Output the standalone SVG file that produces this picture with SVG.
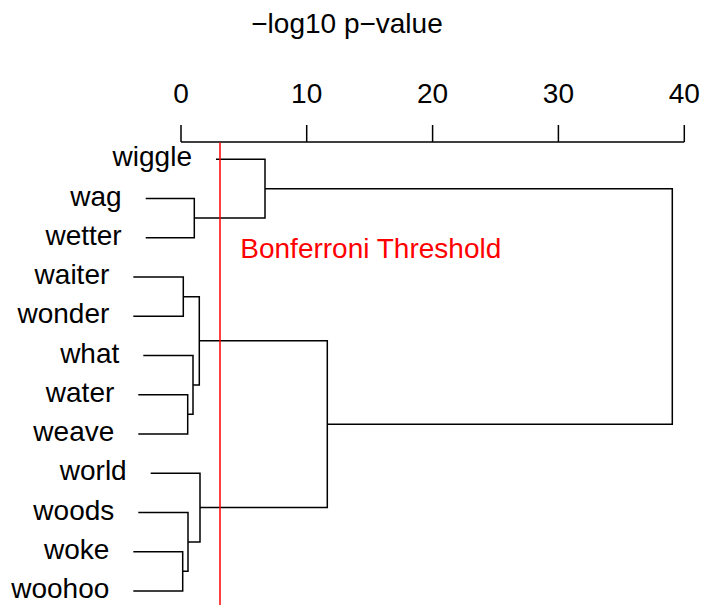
<svg xmlns="http://www.w3.org/2000/svg" width="704" height="605" viewBox="0 0 704 605">
<style>
text{font-family:"Liberation Sans",Arial,sans-serif;font-size:28px;fill:#000}
.lab{text-anchor:end}
.tick{text-anchor:middle}
.ln{fill:none;stroke:#000;stroke-width:1.5;stroke-linecap:butt}
.red{stroke:#ff0000;stroke-width:1.5;fill:none}
</style>
<rect width="704" height="605" fill="#fff"/>
<g id="title"><text x="347" y="33" class="tick">−log10 p−value</text></g>
<g id="axis">
<path class="ln" d="M181,142H684.3M181,125V142M306.7,125V142M432.6,125V142M558.4,125V142M684.3,125V142"/>
<text x="181" y="103" class="tick">0</text>
<text x="306.7" y="103" class="tick">10</text>
<text x="432.6" y="103" class="tick">20</text>
<text x="558.4" y="103" class="tick">30</text>
<text x="684.3" y="103" class="tick">40</text>
</g>
<g id="leaf-wiggle"><text class="lab" x="192" y="166.3">wiggle</text></g>
<g id="leaf-wag"><text class="lab" x="121.7" y="205.5">wag</text></g>
<g id="leaf-wetter"><text class="lab" x="121.7" y="244.8">wetter</text></g>
<g id="leaf-waiter"><text class="lab" x="109.3" y="284">waiter</text></g>
<g id="leaf-wonder"><text class="lab" x="109.3" y="323.3">wonder</text></g>
<g id="leaf-what"><text class="lab" x="119.3" y="362.5">what</text></g>
<g id="leaf-water"><text class="lab" x="114.3" y="401.7">water</text></g>
<g id="leaf-weave"><text class="lab" x="114.3" y="441">weave</text></g>
<g id="leaf-world"><text class="lab" x="126.7" y="480.2">world</text></g>
<g id="leaf-woods"><text class="lab" x="114.3" y="519.5">woods</text></g>
<g id="leaf-woke"><text class="lab" x="109.3" y="558.7">woke</text></g>
<g id="leaf-woohoo"><text class="lab" x="109.3" y="597.9">woohoo</text></g>
<g id="connectors">
<path class="ln" d="M145.7,198.5H194.3V237.8H145.7"/>
<path class="ln" d="M216,159.3H265V218.1H194.3"/>
<path class="ln" d="M133.3,277H183.3V316.3H133.3"/>
<path class="ln" d="M138.3,394.7H187.7V434H138.3"/>
<path class="ln" d="M143.3,355.5H193V414.3H187.7"/>
<path class="ln" d="M183.3,296.7H199.3V384.9H193"/>
<path class="ln" d="M133.3,551.7H182.7V590.9H133.3"/>
<path class="ln" d="M138.3,512.5H188V571.3H182.7"/>
<path class="ln" d="M150.7,473.2H200V541.9H188"/>
<path class="ln" d="M199.3,340.8H327.3V507.6H200"/>
<path class="ln" d="M265,188.7H672.3V424.2H327.3"/>
</g>
<g id="threshold">
<line class="red" x1="220" y1="142.5" x2="220" y2="605"/>
<text x="240.3" y="258.3" style="fill:#ff0000">Bonferroni Threshold</text>
</g>
</svg>
